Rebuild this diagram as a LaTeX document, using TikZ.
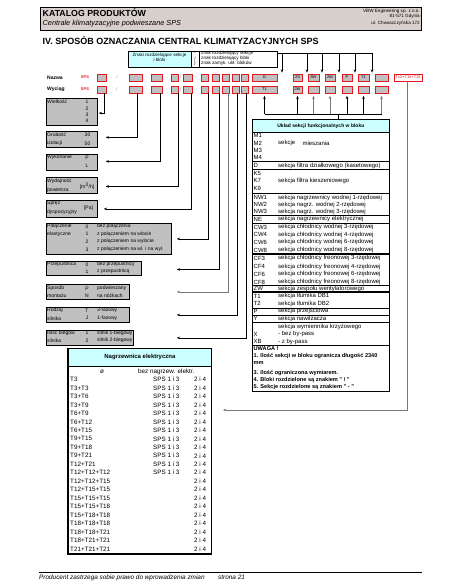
\documentclass[tikz,border=0pt]{standalone}
\usepackage{fontspec}
\setmainfont{Liberation Sans}
\usetikzlibrary{arrows.meta,calc}
\definecolor{cyanfill}{RGB}{204,255,255}
\definecolor{boxgray}{RGB}{192,192,192}
\definecolor{headfill}{RGB}{216,208,204}
\definecolor{redline}{RGB}{225,25,35}
\definecolor{midgray}{RGB}{120,120,120}
\newcommand\fsA{\fontsize{5}{6}\selectfont}
\newcommand\fsB{\fontsize{6}{7}\selectfont}
\newcommand\fsC{\fontsize{6.3}{7}\selectfont}
\newcommand\fsL{\fontsize{4.6}{5.2}\selectfont}
\newcommand\fsR{\fontsize{4}{5}\selectfont}
\begin{document}
\begin{tikzpicture}[x=1pt,y=-1pt,
 conn/.style={line width=0.7pt},
 arr/.style={conn,-{Stealth[length=3.2pt,width=2.6pt]}},
 rbox/.style={draw=redline,fill=boxgray,line width=0.7pt,minimum height=7pt,inner sep=0pt,font=\fsR},
 lbox/.style={draw=black,fill=boxgray,line width=0.8pt,anchor=north west,inner sep=0pt},
 tx/.style={inner sep=0pt,anchor=west,font=\fsA},
 txc/.style={inner sep=0pt,font=\fsA},
 tb/.style={inner sep=0pt,anchor=west,font=\fsB},
 tn/.style={inner sep=0pt,anchor=west,font=\fsC},
 ub/.style={inner sep=0pt,anchor=west,font=\fontsize{5.6}{6}\selectfont\bfseries},
 sepch/.style={inner sep=0pt,font=\fsR,text=midgray}]
\useasboundingbox (0,0) rectangle (450,586);
\fill[white] (0,0) rectangle (450,586);

% ---------- header ----------
\node[draw=black,line width=0.9pt,fill=headfill,anchor=north west,minimum width=381pt,minimum height=23pt,inner sep=0pt] (hdr) at (40,7) {};
\node[anchor=west,inner sep=0pt,font=\fontsize{8.8}{10}\selectfont\bfseries] (kat) at (42.5,12.5) {KATALOG PRODUKTÓW};
\node[anchor=west,inner sep=0pt,font=\fontsize{7.3}{9}\selectfont\itshape] (cent) at (42.5,23.3) {Centrale klimatyzacyjne podwieszane SPS};
\node[anchor=east,inner sep=0pt,font=\fontsize{4.6}{5}\selectfont] (vbw1) at (420,11) {VBW Engineering sp. z o.o.};
\node[anchor=east,inner sep=0pt,font=\fontsize{4.6}{5}\selectfont] (vbw2) at (420,16.8) {81-571 Gdynia};
\node[anchor=east,inner sep=0pt,font=\fontsize{4.6}{5}\selectfont] (vbw3) at (420,23) {ul. Chwaszczyńska 172};
\node[anchor=west,inner sep=0pt,font=\fontsize{9}{10}\selectfont\bfseries] (title) at (42.5,40.5) {IV. SPOSÓB OZNACZANIA CENTRAL KLIMATYZACYJNYCH SPS};

% ---------- legend ----------
\node[fill=cyanfill,anchor=north west,minimum width=63pt,minimum height=16pt,inner sep=0pt] (legc) at (128,51) {};
\node[draw=black,line width=0.6pt,anchor=north west,minimum width=149pt,minimum height=16pt,inner sep=0pt] (leg) at (128,51) {};
\draw[line width=0.5pt] (legc.north east) -- (legc.south east);
\draw[line width=0.5pt] ($(legc.north east)+(8,0)$) -- ($(legc.south east)+(8,0)$);
\node[font=\fsL,inner sep=0pt,align=center] (legt) at (159.5,57.5) {Znaki rozdzielające sekcje\\i bloki};
\node[font=\fsL,inner sep=0pt] (ls1) at (195,53.7) {-};
\node[font=\fsL,inner sep=0pt] (ls2) at (195,58.5) {/};
\node[font=\fsL,inner sep=0pt] (ls3) at (195,63.3) {)};
\node[font=\fsL,inner sep=0pt,anchor=west] (lt1) at (201,53.7) {znak rozdzielający sekcje};
\node[font=\fsL,inner sep=0pt,anchor=west] (lt2) at (201,58.5) {znak rozdzielający bloki};
\node[font=\fsL,inner sep=0pt,anchor=west] (lt3) at (201,63.3) {znak zamyk. ukł. bloków};

% ---------- code rows ----------
\node[tx,font=\fontsize{5}{6}\selectfont\bfseries] (nazwa) at (47,77.5) {Nazwa};
\node[tx,font=\fontsize{5}{6}\selectfont\bfseries] (wyciag) at (47,89.5) {Wyciąg};
\node[inner sep=0pt,font=\fontsize{4}{5}\selectfont\bfseries,text=redline] (sps1) at (85,77.5) {SPS};
\node[inner sep=0pt,font=\fontsize{4}{5}\selectfont\bfseries,text=redline] (sps2) at (85,89.5) {SPS};
\foreach \k/\cx/\w/\lab in {1/101.5/9/{},2/135.5/13/{},3/156.5/11/{},4/174.5/7/{},5/187.5/9/{},6/204.5/7/{},7/215.5/7/{},8/225.5/7/{},9/235.5/7/{},10/244.5/7/{},11/264.5/25/D,12/297.5/9/2S,13/313.5/11/8W,14/330/10/2W,15/347/10/P,16/363.5/11/T1,17/381.5/13/{}}
  \node[rbox,minimum width=\w pt] (n\k) at (\cx,77.5) {\lab};
\foreach \k/\cx/\w/\lab in {1/101.5/9/{},2/135.5/13/{},3/156.5/11/{},4/174.5/7/{},5/187.5/9/{},6/204.5/7/{},7/215.5/7/{},8/225.5/7/{},9/235.5/7/{},10/244.5/7/{},11/264.5/25/T1,12/297.5/9/2W,13/313.5/11/{},14/330/10/{},15/347/10/{},16/363.5/11/{},17/381.5/13/{}}
  \node[rbox,minimum width=\w pt] (w\k) at (\cx,89.5) {\lab};
\foreach \k/\sx/\ch in {1/117/\slash,2/147/-,3/167/-,4/180.7/\slash,5/196.5/-,6/249.6/-,7/284/-}{
  \node[sepch] (sa\k) at (\sx,77.5) {\ch};
  \node[sepch] (sb\k) at (\sx,89.5) {\ch};}
\node[draw=redline,line width=0.7pt,minimum width=28pt,minimum height=7pt,inner sep=0pt,font=\fsR,text=redline] (redb) at (408,77.5) {T12+T15+T15};

% legend connectors
\draw[conn] ($(leg.north east)+(0,2)$) -- (372,53);
\foreach \xx in {282,307,322,339,355,372}
  \draw[arr,shorten >=1pt] (\xx,53) -- (\xx,0 |- n11.north);

% ---------- left option boxes ----------
\node[lbox,minimum width=51pt,minimum height=27pt] (wielk) at (46,98) {};
\node[lbox,minimum width=51pt,minimum height=16pt] (grub) at (46,131) {};
\node[lbox,minimum width=51pt,minimum height=16pt] (wyk) at (46,154) {};
\node[lbox,minimum width=51pt,minimum height=16pt] (wyd) at (46,177) {};
\node[lbox,minimum width=51pt,minimum height=17pt] (spr) at (46,200) {};
\node[lbox,minimum width=125pt,minimum height=31pt] (pol) at (46,223) {};
\node[lbox,minimum width=95pt,minimum height=14pt] (prz) at (46,261) {};
\node[lbox,minimum width=83pt,minimum height=15pt] (spo) at (46,284) {};
\node[lbox,minimum width=83pt,minimum height=15pt] (rod) at (46,307) {};
\node[lbox,minimum width=87pt,minimum height=15pt] (ilo) at (46,330) {};

\node[tx] (wielkT) at (47,102) {Wielkość};
\foreach \i/\yy in {1/102,2/108.3,3/114.7,4/121} \node[txc] (wv\i) at (87,\yy) {\i};
\node[tx] (grubT1) at (47,135) {Grubość};
\node[tx] (grubT2) at (47,143.5) {izolacji};
\node[txc] (grubV1) at (87.5,135) {30};
\node[txc] (grubV2) at (87.5,143.5) {50};
\node[tx] (wykT) at (47,157.5) {Wykonanie};
\node[txc] (wykV1) at (87,157.5) {P};
\node[txc] (wykV2) at (87,166) {L};
\node[tx] (wydT1) at (47,180.7) {Wydajność};
\node[tx] (wydT2) at (47,190) {powietrza};
\node[txc] (wydV) at (87,186) {[m\textsuperscript{3}/h]};
\node[tx] (sprT1) at (47,203.5) {Spręż};
\node[tx] (sprT2) at (47,212.7) {dyspozycyjny};
\node[txc] (sprV) at (88.5,208) {[Pa]};

\foreach \i/\a/\b/\c/\yy in {1/Połączenie/0/bez połączenia/226.7,2/elastyczne/1/z połączeniem na wlocie/234,3/{}/2/z połączeniem na wylocie/241.7,4/{}/3/z połączeniem na wl. i na wyl./249.3,
  5/Przepustnica/0/bez przepustnicy/264.3,6/{}/1/z przepustnicą/271.5,
  7/Sposób/P/podwieszany/288.3,8/montażu/N/na nóżkach/296,
  9/Rodzaj/T/3-fazowy/310.7,10/silnika/J/1-fazowy/318.3,
  11/Ilość biegów/1/silnik 1-biegowy/333,12/silnika/2/silnik 2-biegowy/340.5}{
  \node[tx] (oa\i) at (47,\yy) {\a};
  \node[txc] (ob\i) at (87,\yy) {\b};
  \node[tx] (oc\i) at (97,\yy) {\c};}

% connectors to left boxes
\draw[arr] ([xshift=2.5pt]w1.south) |- ([xshift=1pt,yshift=-1.2pt]wielk.east);
\draw[arr] ([xshift=1.5pt]w2.south) |- ([xshift=8pt,yshift=2pt]grub.east);
\draw[arr] ([xshift=3.5pt]w3.south) |- ([xshift=8pt,yshift=1pt]wyk.east);
\draw[arr] ([xshift=3.5pt]w4.south) |- ([xshift=8pt,yshift=-1pt]wyd.east);
\draw[arr] ([xshift=3.5pt]w5.south) |- ([xshift=6pt]spr.east);
\draw[arr] ([xshift=3.5pt]w6.south) |- ([xshift=5pt]pol.east);
\draw[arr] ([xshift=3.5pt]w7.south) |- ([xshift=35pt,yshift=-1pt]prz.east);
\draw[arr,draw=midgray] ([xshift=2.5pt]w8.south) |- ([xshift=47pt]spo.east);
\draw[arr] ([xshift=1.5pt]w9.south) |- ([xshift=47pt]rod.east);
\draw[arr] ([xshift=1.5pt]w10.south) |- ([xshift=43pt]ilo.east);

% ---------- right table ----------
\node[fill=cyanfill,draw=black,line width=0.7pt,anchor=north west,minimum width=137pt,minimum height=13pt,inner sep=0pt,font=\fontsize{5}{6}\selectfont\bfseries] (ukh) at (252,119) {Układ sekcji funkcjonalnych w bloku};
\node[draw=black,line width=0.8pt,anchor=north west,minimum width=137pt,minimum height=259pt,inner sep=0pt] (ukb) at (252,132) {};
\foreach \dy/\lw in {161.5/0.7,169.3/0.7,193/0.7,215.7/0.7,223/0.7,254/1.3,285.3/0.9,292/1.3,308/0.7,315/0.7,322.3/0.7,345/0.7}
  \draw[line width=\lw pt] ($(ukb.north west)+(0,\dy-132)$) -- ($(ukb.north east)+(0,\dy-132)$);
\coordinate (hub) at (338,114);
\draw[conn] (hub) -- (hub |- ukh.north);
\draw[conn] (hub -| w11.south) -- (hub -| w17.south);
\foreach \b/\c in {11/black,12/black,13/midgray,14/midgray,15/black,16/black,17/midgray}
  \draw[arr,draw=\c,shorten >=2.5pt] (hub -| w\b.south) -- (w\b.south);

\foreach \i/\cd/\yy in {1/M1/135.7,2/M2/143,3/M3/150.3,4/M4/157.7,5/D/165.5,6/K5/173.3,7/K7/180.7,8/K9/188,9/NW1/197.5,10/NW2/204.5,11/NW3/211.7,12/NE/219.3,13/CW3/227.3,14/CW4/234.7,15/CW6/242.3,16/CW8/250,17/CF3/258.3,18/CF4/266.7,19/CF6/274.3,20/CF8/282,21/ZW/288.5,22/T1/296,23/T2/303.7,24/P/311.3,25/Y/318.5,26/X/334,27/XB/341.7}
  \node[tb] (uc\i) at (253.5,\yy) {\cd};
\foreach \i/\ds/\yy in {1/sekcje/143,2/sekcja filtra działkowego (kasetowego)/165.5,3/sekcja filtra kieszeniowego/180.7,4/sekcja nagrzewnicy wodnej 1-rzędowej/197.5,5/sekcja nagrz. wodnej 2-rzędowej/204.5,6/sekcja nagrz. wodnej 3-rzędowej/211.7,7/sekcja nagrzewnicy elektrycznej/219.3,8/sekcja chłodnicy wodnej 3-rzędowej/227.3,9/sekcja chłodnicy wodnej 4-rzędowej/234.7,10/sekcja chłodnicy wodnej 6-rzędowej/242.3,11/sekcja chłodnicy wodnej 8-rzędowej/250,12/sekcja chłodnicy freonowej 3-rzędowej/258.3,13/sekcja chłodnicy freonowej 4-rzędowej/266.7,14/sekcja chłodnicy freonowej 6-rzędowej/274.3,15/sekcja chłodnicy freonowej 8-rzędowej/282,16/sekcja zespołu wentylatorowego/288.5,17/sekcja tłumika DB1/296,18/sekcja tłumika DB2/303.7,19/sekcja przejściowa/311.3,20/sekcja nawilżacza/318.5,21/sekcja wymiennika krzyżowego/326.7,22/- bez by-pass/334,23/- z by-pass/341.7}
  \node[tb] (ud\i) at (278,\yy) {\ds};
\node[tb] (udm) at (302.3,143) {mieszania};
\node[ub] (uw1) at (253.5,348.7) {UWAGA !};
\node[ub] (uw2) at (253.5,356) {1. Ilość sekcji w bloku ogranicza długość 2340};
\node[ub] (uw3) at (253.5,363.4) {mm};
\node[ub] (uw4) at (253.5,372.7) {3. Ilość ograniczona wymiarem.};
\node[ub] (uw5) at (253.5,380) {4. Bloki rozdzielone są znakiem " / "};
\node[ub] (uw6) at (253.5,387.3) {5. Sekcje rozdzielone są znakiem " - "};

% ---------- heater table ----------
\node[fill=cyanfill,draw=black,line width=0.8pt,anchor=north west,minimum width=143pt,minimum height=18pt,inner sep=0pt,font=\fontsize{6}{7}\selectfont\bfseries] (nagh) at (68,348) {Nagrzewnica elektryczna};
\node[draw=black,line width=1pt,anchor=north west,minimum width=143pt,minimum height=187pt,inner sep=0pt] (nagb) at (68,366) {};
\draw[line width=1.5pt] (nagh.north west) -- (nagb.south west) -- (nagb.south east);
\node[inner sep=0pt,font=\fsC] (nz0) at (102,372) {ø};
\node[tn] (nz1) at (138,372) {bez nagrzew. elektr.};
\foreach \nm [count=\i from 0] in {T3,T3+T3,T3+T6,T3+T9,T6+T9,T6+T12,T6+T15,T9+T15,T9+T18,T9+T21,T12+T21,T12+T12+T12,T12+T12+T15,T12+T15+T15,T15+T15+T15,T15+T15+T18,T15+T18+T18,T18+T18+T18,T18+T18+T21,T18+T21+T21,T21+T21+T21}{
  \node[tn] (nr\i) at (70,379.5+8.47*\i) {\nm};
  \node[tn] (nf\i) at (194,379.5+8.47*\i) {2 i 4};}
\foreach \i in {0,...,11}
  \node[tn] (ns\i) at (153,379.5+8.47*\i) {SPS 1 i 3};
\draw[arr,draw=midgray] ([xshift=-1pt]redb.south) |- ($(nagb.north east)+(11,44)$);

% ---------- footer ----------
\coordinate (fl) at (39,572);
\coordinate (fr) at (422,572);
\draw[line width=0.9pt] (fl) -- (fr);
\node[anchor=west,inner sep=0pt,font=\fontsize{6.4}{7}\selectfont\itshape] (foot) at (39,577.5) {Producent zastrzega sobie prawo do wprowadzenia zmian};
\node[anchor=west,inner sep=0pt,font=\fontsize{6.4}{7}\selectfont\itshape] (page) at (218,577.5) {strona 21};
\end{tikzpicture}
\end{document}
